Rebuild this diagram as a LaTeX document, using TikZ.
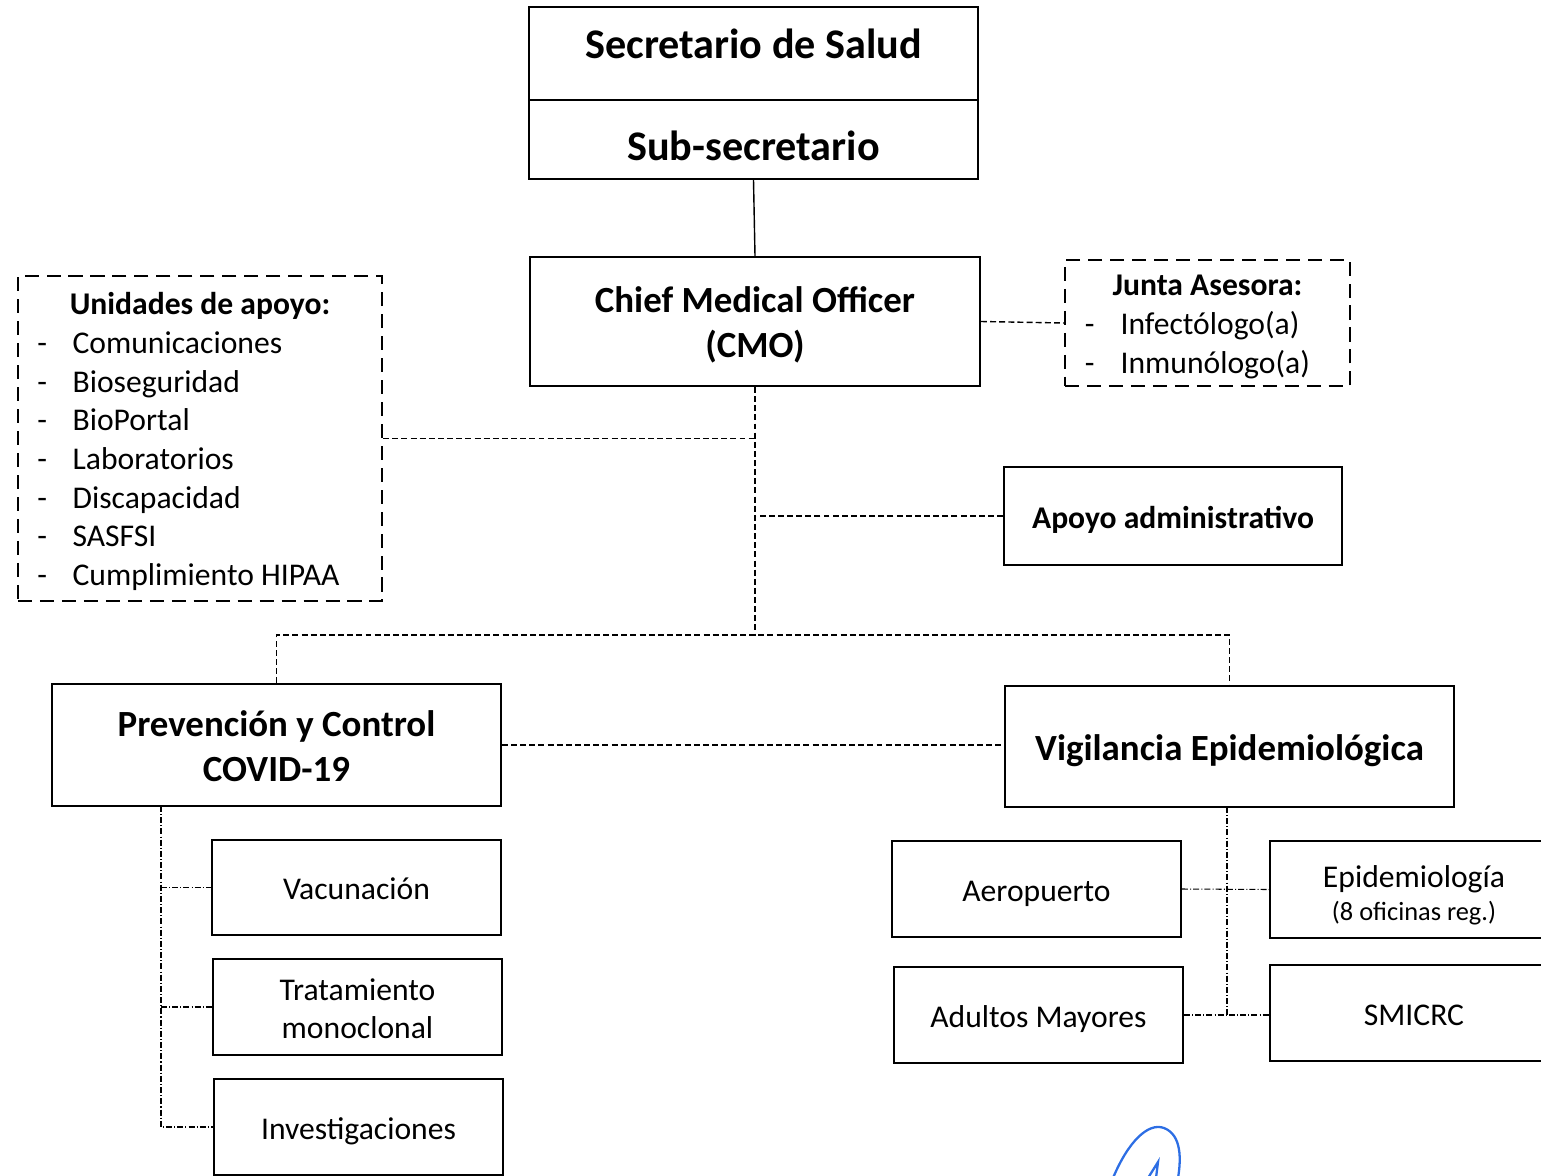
\documentclass[tikz,border=0pt]{standalone}
\usepackage{fontspec}
\setmainfont{Carlito}
\definecolor{inkblue}{RGB}{45,110,228}
\newcommand{\lift}[1][0.9em]{\rule{0pt}{#1}}

\begin{document}
\begin{tikzpicture}[x=0.02cm, y=-0.02cm,
    box/.style={draw, rectangle, line width=1.1pt, inner sep=0pt, align=center, font=\fontsize{18}{21.5}\selectfont},
    head/.style={box, font=\bfseries\fontsize{21}{25.5}\selectfont},
    oneline/.style={text height=#1, text depth=0pt},
    oneline/.default=14pt,
    note/.style={draw, rectangle, line width=1.4pt, dash pattern=on 8pt off 4.5pt, inner sep=0pt, text height=13pt, text depth=0pt, font=\fontsize{18}{22}\selectfont},
    link/.style={line width=0.8pt, dash pattern=on 3.4pt off 1.8pt},
    sublink/.style={line width=0.6pt, dash pattern=on 3.4pt off 1.2pt on 0.6pt off 1.2pt}]
    \useasboundingbox (0,0) rectangle (1541,1176);

    % Draw blocks
    \node[box, font=\bfseries\fontsize{24}{28}\selectfont, minimum width=8.98cm, minimum height=1.86cm, text depth=11pt] (sec) at (753.5,53.5) {Secretario de Salud};
    \node[box, font=\bfseries\fontsize{24}{28}\selectfont, minimum width=8.98cm, minimum height=1.58cm, oneline=24pt] (subsec) at (753.5,139.5) {Sub-secretario};
    \node[head, minimum width=9cm, minimum height=2.58cm] (cmo) at (755,321.5) {\lift Chief Medical Officer\\(CMO)};

    \node[note, minimum width=5.7cm, minimum height=2.52cm] (junta) at (1207.5,323)
        {\hspace*{-9.8pt}\begin{tabular}{@{}l@{\hspace{14.8pt}}l@{}}
         \multicolumn{2}{c}{\hspace{9.8pt}\bfseries Junta Asesora:}\\
         - & Infectólogo(a)\\
         - & Inmunólogo(a)
         \end{tabular}};
    \node[note, minimum width=7.28cm, minimum height=6.5cm] (unid) at (200,438.5)
        {\hspace*{-12.4pt}\begin{tabular}{@{}l@{\hspace{14.5pt}}l@{}}
         \multicolumn{2}{c}{\hspace{12.4pt}\bfseries Unidades de apoyo:}\\
         - & Comunicaciones\\
         - & Bioseguridad\\
         - & BioPortal\\
         - & Laboratorios\\
         - & Discapacidad\\
         - & SASFSI\\
         - & Cumplimiento HIPAA
         \end{tabular}};

    \node[box, oneline, font=\bfseries\fontsize{18}{21.5}\selectfont, minimum width=6.76cm, minimum height=1.96cm] (apoyo) at (1173,516) {Apoyo administrativo};

    \node[head, minimum width=8.98cm, minimum height=2.44cm] (prev) at (276.5,745) {\lift[0.75em]Prevención y Control\\COVID-19};
    \node[head, oneline=16pt, minimum width=8.98cm, minimum height=2.42cm] (vig) at (1229.5,746.5) {Vigilancia Epidemiológica};

    \node[box, oneline, minimum width=5.78cm, minimum height=1.9cm] (vac) at (356.5,887.5) {Vacunación};
    \node[box, minimum width=5.78cm, minimum height=1.92cm] (trat) at (357.5,1007) {\lift[0.8em]Tratamiento\\monoclonal};
    \node[box, oneline, minimum width=5.78cm, minimum height=1.92cm] (inv) at (358.5,1127) {Investigaciones};

    \node[box, oneline, minimum width=5.78cm, minimum height=1.92cm] (aero) at (1036.5,889) {Aeropuerto};
    \node[box, oneline, minimum width=5.78cm, minimum height=1.92cm] (adul) at (1038.5,1015) {Adultos Mayores};
    \node[box, minimum width=5.76cm, minimum height=1.94cm] (epi) at (1414,889.5) {\lift[1.05em]Epidemiología\\[-3pt]{\fontsize{15}{17}\selectfont (8 oficinas reg.)}};
    \node[box, oneline, minimum width=5.76cm, minimum height=1.92cm] (smi) at (1414,1013) {SMICRC};

    % junction points
    \coordinate (split) at (755,635);
    \coordinate (ltop) at (161,806);
    \coordinate (rtop) at (1227,807);

    % Draw connections
    \draw[line width=0.8pt] (subsec.south) -- (cmo.north);
    \draw[link] (cmo.east) -- (junta.west);
    \draw[link] (cmo.south) -- (split);
    \draw[link] (unid.east) -- (unid.east -| cmo.south);
    \draw[link] (apoyo.west) -- (apoyo.west -| cmo.south);
    \draw[link] (prev.north) |- (split) -| (vig.north);
    \draw[link] (prev.east) -- (prev.east -| vig.west);

    \draw[sublink] (ltop) |- (inv.west);
    \draw[sublink] (ltop |- vac.west) -- (vac.west);
    \draw[sublink] (ltop |- trat.west) -- (trat.west);

    \draw[sublink] (rtop) -- (rtop |- adul.east);
    \draw[sublink] (aero.east) -- (epi.west);
    \draw[sublink] (adul.east) -- (adul.east -| smi.west);

    % signature stroke
    \draw[inkblue, line width=1.3pt, line cap=round] (1113,1178) .. controls (1128,1142) and (1148,1122) .. (1164,1128) .. controls (1182,1135) and (1181,1160) .. (1178,1178);
    \draw[inkblue, line width=1.3pt, line cap=round] (1148,1178) -- (1158,1162) -- (1156,1178);
\end{tikzpicture}
\end{document}
